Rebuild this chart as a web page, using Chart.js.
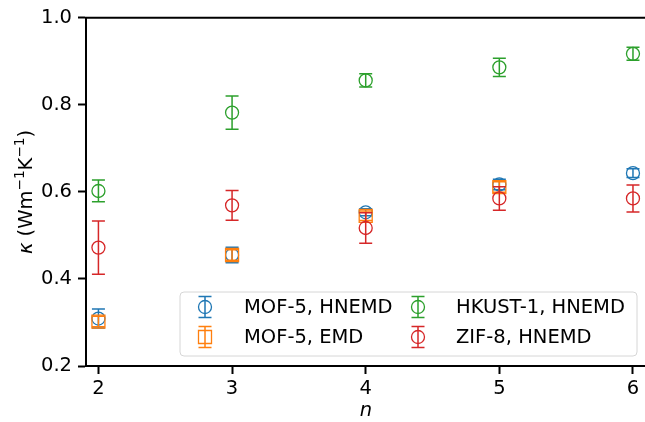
<!DOCTYPE html>
<html>
<head>
<meta charset="utf-8">
<script src="https://cdn.jsdelivr.net/npm/chart.js@4"></script>
<style>
  html, body { margin: 0; padding: 0; background: #fff; overflow: hidden; }
  #wrap { width: 645px; height: 422px; }
</style>
</head>
<body>
<div id="wrap"><canvas id="myChart"></canvas></div>
<script>
// values
var nValues = [2, 3, 4, 5, 6];
var xTicks = [2, 3, 4, 5, 6];
var yTicks = [0.2, 0.4, 0.6, 0.8, 1.0];

var labels = ["MOF-5, HNEMD", "MOF-5, EMD", "HKUST-1, HNEMD", "ZIF-8, HNEMD"];

var mof5Hnemd = [0.309, 0.455, 0.553, 0.617, 0.643];
var mof5HnemdErr = [0.022, 0.018, 0.008, 0.012, 0.010];

var mof5Emd = [0.302, 0.455, 0.545, 0.611];
var mof5EmdErr = [0.012, 0.012, 0.011, 0.012];

var hkust = [0.602, 0.782, 0.856, 0.886, 0.917];
var hkustErr = [0.025, 0.038, 0.015, 0.021, 0.015];

var zif8 = [0.472, 0.569, 0.517, 0.585, 0.585];
var zif8Err = [0.061, 0.034, 0.035, 0.027, 0.031];

var colors = ["#1f77b4", "#ff7f0e", "#2ca02c", "#d62728"];

function pts(ys) {
	return ys.map(function (y, i) { return { x: nValues[i], y: y }; });
}

var FONT = "'DejaVu Sans', sans-serif";
var FS = 19.5;

function makeSet(i, ys, errs, style) {
	return {
		label: labels[i],
		data: pts(ys),
		errs: errs,
		borderColor: colors[i],
		backgroundColor: 'rgba(0,0,0,0)',
		pointStyle: style,
		pointRadius: style == 'rect' ? 9.2 : 6.5,
		pointBorderWidth: 1.3,
		order: 4 - i
	};
}

// error bars drawn under each set's markers
var errorBars = {
	id: 'errorBars',
	beforeDatasetDraw: function (chart, args) {
		var ds = chart.data.datasets[args.index];
		var xs = chart.scales.x, ys = chart.scales.y;
		var ctx = chart.ctx;
		ctx.save();
		ctx.strokeStyle = ds.borderColor;
		ctx.lineWidth = 1.5;
		ds.data.forEach(function (p, k) {
			var px = xs.getPixelForValue(p.x);
			var top = ys.getPixelForValue(p.y + ds.errs[k]);
			var bot = ys.getPixelForValue(p.y - ds.errs[k]);
			ctx.beginPath();
			ctx.moveTo(px, top); ctx.lineTo(px, bot);
			ctx.moveTo(px - 6.5, top); ctx.lineTo(px + 6.5, top);
			ctx.moveTo(px - 6.5, bot); ctx.lineTo(px + 6.5, bot);
			ctx.stroke();
		});
		ctx.restore();
	}
};

// top spine, axis titles and the two-column legend box
var decor = {
	id: 'decor',
	afterDraw: function (chart) {
		var ctx = chart.ctx, a = chart.chartArea;
		ctx.save();
		ctx.strokeStyle = '#000';
		ctx.lineWidth = 2;
		ctx.beginPath();
		ctx.moveTo(a.left - 1, a.top);
		ctx.lineTo(a.right, a.top);
		ctx.stroke();

		// x title
		ctx.fillStyle = '#000';
		ctx.textBaseline = 'alphabetic';
		ctx.textAlign = 'center';
		ctx.font = 'italic ' + FS + 'px ' + FONT;
		ctx.fillText('n', 366, 416);

		// y title: italic kappa, superscripts
		var parts = [
			['κ', 'italic ' + FS + 'px ' + FONT, 0],
			[' (Wm', FS + 'px ' + FONT, 0],
			['−1', (FS * 0.7) + 'px ' + FONT, -8],
			['K', FS + 'px ' + FONT, 0],
			['−1', (FS * 0.7) + 'px ' + FONT, -8],
			[')', FS + 'px ' + FONT, 0]
		];
		var total = 0;
		parts.forEach(function (p) { ctx.font = p[1]; total += ctx.measureText(p[0]).width; });
		ctx.translate(32, 192);
		ctx.rotate(-Math.PI / 2);
		ctx.textAlign = 'left';
		var cx = -total / 2;
		parts.forEach(function (p) {
			ctx.font = p[1];
			ctx.fillText(p[0], cx, p[2]);
			cx += ctx.measureText(p[0]).width;
		});
		ctx.setTransform(1, 0, 0, 1, 0, 0);

		// legend frame
		var bx = 180, by = 292, bw = 457, bh = 64, r = 4;
		ctx.beginPath();
		ctx.moveTo(bx + r, by);
		ctx.arcTo(bx + bw, by, bx + bw, by + bh, r);
		ctx.arcTo(bx + bw, by + bh, bx, by + bh, r);
		ctx.arcTo(bx, by + bh, bx, by, r);
		ctx.arcTo(bx, by, bx + bw, by, r);
		ctx.closePath();
		ctx.fillStyle = 'rgba(255,255,255,0.8)';
		ctx.fill();
		ctx.strokeStyle = '#d6d6d6';
		ctx.lineWidth = 1;
		ctx.stroke();

		var spots = [[205, 307], [205, 337], [418, 307], [418, 337]];
		var textX = [244, 244, 456, 456];
		chart.data.datasets.forEach(function (ds, i) {
			var mx = spots[i][0], my = spots[i][1];
			ctx.strokeStyle = ds.borderColor;
			ctx.lineWidth = 1.5;
			ctx.beginPath();
			ctx.moveTo(mx, my - 10.5); ctx.lineTo(mx, my + 10.5);
			ctx.moveTo(mx - 6.5, my - 10.5); ctx.lineTo(mx + 6.5, my - 10.5);
			ctx.moveTo(mx - 6.5, my + 10.5); ctx.lineTo(mx + 6.5, my + 10.5);
			ctx.stroke();
			ctx.lineWidth = 1.3;
			ctx.beginPath();
			if (ds.pointStyle == 'rect') ctx.rect(mx - 6.5, my - 6.5, 13, 13);
			else ctx.arc(mx, my, 6.5, 0, Math.PI * 2);
			ctx.stroke();
			ctx.fillStyle = '#000';
			ctx.font = FS + 'px ' + FONT;
			ctx.textBaseline = 'middle';
			ctx.textAlign = 'left';
			ctx.fillText(ds.label, textX[i], my + 1);
		});
		ctx.restore();
	}
};

var ctx = document.getElementById("myChart");
var myChart = new Chart(ctx, {
	type: 'scatter',
	data: {
		datasets: [
			makeSet(0, mof5Hnemd, mof5HnemdErr, 'circle'),
			makeSet(1, mof5Emd, mof5EmdErr, 'rect'),
			makeSet(2, hkust, hkustErr, 'circle'),
			makeSet(3, zif8, zif8Err, 'circle')
		]
	},
	options: {
		responsive: true,
		maintainAspectRatio: false,
		animation: false,
		layout: { autoPadding: false, padding: { top: 17, right: 0, left: 0, bottom: 0 } },
		plugins: {
			legend: { display: false },
			tooltip: { enabled: false }
		},
		scales: {
			x: {
				type: 'linear',
				min: 1.907,
				max: 6.09,
				afterBuildTicks: function (s) { s.ticks = xTicks.map(function (v) { return { value: v }; }); },
				afterFit: function (s) { s.height = 56; },
				grid: { drawOnChartArea: false, drawTicks: true, tickLength: 8, tickWidth: 2, color: '#000' },
				border: { display: true, color: '#000', width: 2 },
				ticks: { color: '#000', font: { family: FONT, size: FS }, padding: 3, maxRotation: 0 }
			},
			y: {
				min: 0.2,
				max: 1.0,
				afterBuildTicks: function (s) { s.ticks = yTicks.map(function (v) { return { value: v }; }); },
				afterFit: function (s) { s.width = 86; },
				grid: { drawOnChartArea: false, drawTicks: true, tickLength: 8, tickWidth: 2, color: '#000' },
				border: { display: true, color: '#000', width: 2 },
				ticks: { color: '#000', font: { family: FONT, size: FS }, padding: 6,
					callback: function (v) { return v.toFixed(1); } }
			}
		}
	},
	plugins: [errorBars, decor]
});
</script>
</body>
</html>
